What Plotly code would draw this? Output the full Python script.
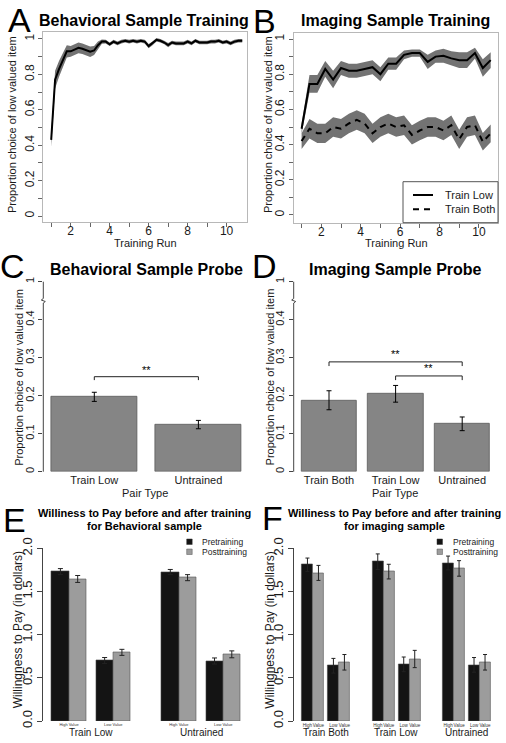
import plotly.graph_objects as go

W, H = 506, 743
FONT = "Liberation Sans, Arial, Helvetica, sans-serif"

# ----------------------------- data -----------------------------
# Panel A: behavioral sample training
train_run_A = [1.0, 1.2, 1.4, 1.6, 1.8, 2.0, 2.2, 2.4, 2.6, 2.8,
               3.0, 3.2, 3.4, 3.6, 3.8, 4.0, 4.2, 4.4, 4.6, 4.8,
               5.0, 5.2, 5.4, 5.6, 5.8, 6.0, 6.2, 6.4, 6.6, 6.8,
               7.0, 7.2, 7.4, 7.6, 7.8, 8.0, 8.2, 8.4, 8.6, 8.8,
               9.0, 9.2, 9.4, 9.6, 9.8, 10.0, 10.2, 10.4, 10.6, 10.8]
behav_mean = [0.43, 0.77, 0.83, 0.88, 0.93, 0.93, 0.94, 0.95, 0.945, 0.935,
              0.928, 0.935, 0.965, 0.985, 0.985, 0.97, 0.985, 0.975, 0.985, 0.99,
              0.985, 0.99, 0.985, 0.99, 0.985, 0.96, 0.975, 0.995, 0.99, 0.98,
              0.965, 0.98, 0.975, 0.975, 0.975, 0.985, 0.975, 0.99, 0.98, 0.98,
              0.98, 0.985, 0.985, 0.99, 0.98, 0.985, 0.975, 0.985, 0.99, 0.99]
behav_se = [0.04, 0.05, 0.045, 0.04, 0.035, 0.03, 0.03, 0.03, 0.03, 0.03,
            0.03, 0.025, 0.02, 0.012, 0.01, 0.01, 0.01, 0.01, 0.01, 0.01,
            0.01, 0.01, 0.01, 0.01, 0.01, 0.012, 0.01, 0.01, 0.01, 0.01,
            0.012, 0.01, 0.01, 0.01, 0.01, 0.01, 0.01, 0.01, 0.01, 0.01,
            0.01, 0.01, 0.01, 0.01, 0.01, 0.01, 0.01, 0.01, 0.01, 0.01]

# Panel B: imaging sample training
train_run_B = [1.0, 1.4, 1.8, 2.2, 2.6, 3.0, 3.4, 3.8, 4.2, 4.6,
               5.0, 5.4, 5.8, 6.2, 6.6, 7.0, 7.4, 7.8, 8.2, 8.6,
               9.0, 9.4, 9.8, 10.2, 10.6]
trainlow_mean = [0.49, 0.745, 0.745, 0.83, 0.77, 0.835, 0.82, 0.82, 0.83, 0.84,
                 0.80, 0.86, 0.86, 0.91, 0.92, 0.92, 0.87, 0.90, 0.905, 0.89,
                 0.88, 0.88, 0.92, 0.835, 0.88]
trainlow_se = [0.03, 0.05, 0.05, 0.045, 0.05, 0.04, 0.04, 0.04, 0.04, 0.04,
               0.04, 0.035, 0.035, 0.025, 0.02, 0.02, 0.04, 0.035, 0.04, 0.04,
               0.045, 0.045, 0.03, 0.05, 0.045]
trainboth_mean = [0.42, 0.49, 0.464, 0.464, 0.50, 0.49, 0.52, 0.54, 0.52, 0.464,
                  0.50, 0.52, 0.50, 0.51, 0.455, 0.48, 0.50, 0.50, 0.48, 0.51,
                  0.43, 0.50, 0.51, 0.416, 0.464]
trainboth_se = [0.045, 0.055, 0.055, 0.055, 0.055, 0.055, 0.055, 0.055, 0.055, 0.055,
                0.055, 0.055, 0.055, 0.055, 0.055, 0.055, 0.055, 0.055, 0.055, 0.055,
                0.055, 0.055, 0.055, 0.05, 0.05]

# Panel C: behavioral probe
probe_C_labels = ["Train Low", "Untrained"]
probe_C_mean = [0.197, 0.124]
probe_C_se = [0.012, 0.011]

# Panel D: imaging probe
probe_D_labels = ["Train Both", "Train Low", "Untrained"]
probe_D_mean = [0.188, 0.205, 0.126]
probe_D_se = [0.025, 0.022, 0.018]

# Panel E: WTP behavioral (order: group x [High Value, Low Value])
wtp_E_groups = ["Train Low", "Untrained"]
wtp_E_pre = [1.73, 0.70, 1.725, 0.695]
wtp_E_pre_se = [0.035, 0.035, 0.03, 0.035]
wtp_E_post = [1.645, 0.795, 1.66, 0.772]
wtp_E_post_se = [0.04, 0.035, 0.035, 0.04]

# Panel F: WTP imaging
wtp_F_groups = ["Train Both", "Train Low", "Untrained"]
wtp_F_pre = [1.81, 0.64, 1.845, 0.656, 1.83, 0.65]
wtp_F_pre_se = [0.077, 0.085, 0.09, 0.085, 0.08, 0.085]
wtp_F_post = [1.715, 0.68, 1.73, 0.718, 1.767, 0.68]
wtp_F_post_se = [0.087, 0.09, 0.085, 0.1, 0.09, 0.09]

# ----------------------------- helpers -----------------------------
def X(px):
    return px / W


def Y(py):
    return 1 - py / H


fig = go.Figure()

BAND = "#737373"
BAR = "#858585"
PRE = "#141414"
POST = "#9c9c9c"
TXT = "#1a1a1a"


def band(x, m, s, xa, ya, color=BAND):
    up = [a + b for a, b in zip(m, s)]
    lo = [a - b for a, b in zip(m, s)]
    fig.add_trace(go.Scatter(x=x, y=up, mode="lines", line=dict(width=0),
                             xaxis=xa, yaxis=ya, hoverinfo="skip"))
    fig.add_trace(go.Scatter(x=x, y=lo, mode="lines", line=dict(width=0),
                             fill="tonexty", fillcolor=color,
                             xaxis=xa, yaxis=ya, hoverinfo="skip"))


# Panel A
band(train_run_A, behav_mean, behav_se, "x", "y")
fig.add_trace(go.Scatter(x=train_run_A, y=behav_mean, mode="lines",
                         line=dict(color="black", width=2), xaxis="x", yaxis="y"))

# Panel B
band(train_run_B, trainlow_mean, trainlow_se, "x2", "y2")
band(train_run_B, trainboth_mean, trainboth_se, "x2", "y2")
fig.add_trace(go.Scatter(x=train_run_B, y=trainlow_mean, mode="lines",
                         line=dict(color="black", width=2), xaxis="x2", yaxis="y2"))
fig.add_trace(go.Scatter(x=train_run_B, y=trainboth_mean, mode="lines",
                         line=dict(color="black", width=2, dash="6px,5px"),
                         xaxis="x2", yaxis="y2"))

# Panel C
posC = [0.7 + 1.2 * i for i in range(len(probe_C_mean))]
fig.add_trace(go.Bar(x=posC, y=probe_C_mean, width=1.0,
                     marker=dict(color=BAR, line=dict(color="#5a5a5a", width=0.8)),
                     error_y=dict(type="data", array=probe_C_se, color="black",
                                  thickness=1, width=2.5),
                     xaxis="x3", yaxis="y3"))

# Panel D
posD = [0.7 + 1.2 * i for i in range(len(probe_D_mean))]
fig.add_trace(go.Bar(x=posD, y=probe_D_mean, width=1.0,
                     marker=dict(color=BAR, line=dict(color="#5a5a5a", width=0.8)),
                     error_y=dict(type="data", array=probe_D_se, color="black",
                                  thickness=1, width=2.5),
                     xaxis="x4", yaxis="y4"))

# Panel E
GE, VE = 6.36, 2.56
posE_pre = [0.5 + g * GE + v * VE for g in range(2) for v in range(2)]
posE_post = [p + 1 for p in posE_pre]
fig.add_trace(go.Bar(x=posE_pre, y=wtp_E_pre, width=1.0,
                     marker=dict(color=PRE, line=dict(color="#444", width=0.6)),
                     error_y=dict(type="data", array=wtp_E_pre_se, color="#222",
                                  thickness=1, width=2.5),
                     xaxis="x5", yaxis="y5"))
fig.add_trace(go.Bar(x=posE_post, y=wtp_E_post, width=1.0,
                     marker=dict(color=POST, line=dict(color="#555", width=0.6)),
                     error_y=dict(type="data", array=wtp_E_post_se, color="#222",
                                  thickness=1, width=2.5),
                     xaxis="x5", yaxis="y5"))

# Panel F
GF, VF = 6.39, 2.36
posF_pre = [0.5 + g * GF + v * VF for g in range(3) for v in range(2)]
posF_post = [p + 1 for p in posF_pre]
fig.add_trace(go.Bar(x=posF_pre, y=wtp_F_pre, width=1.0,
                     marker=dict(color=PRE, line=dict(color="#444", width=0.6)),
                     error_y=dict(type="data", array=wtp_F_pre_se, color="#222",
                                  thickness=1, width=2),
                     xaxis="x6", yaxis="y6"))
fig.add_trace(go.Bar(x=posF_post, y=wtp_F_post, width=1.0,
                     marker=dict(color=POST, line=dict(color="#555", width=0.6)),
                     error_y=dict(type="data", array=wtp_F_post_se, color="#222",
                                  thickness=1, width=2),
                     xaxis="x6", yaxis="y6"))

# ----------------------------- axes -----------------------------
tick_font = dict(family=FONT, size=12, color=TXT)


def line_xaxis(dom, rng, anchor):
    return dict(domain=[X(dom[0]), X(dom[1])], range=rng, anchor=anchor,
                tickvals=list(range(1, 11)),
                ticktext=["" if i % 2 else str(i) for i in range(1, 11)],
                ticks="outside", ticklen=4, tickcolor="#666", tickwidth=1,
                showline=True, mirror=True, linecolor="#b8b8b8", linewidth=1,
                showgrid=False, zeroline=False, tickfont=tick_font,
                ticklabelstandoff=-6, tickangle=0, automargin=False)


def line_yaxis(dom, rng, anchor):
    vals = [i / 10 for i in range(11)]
    text = ["0", "", "0.2", "", "0.4", "", "0.6", "", "0.8", "", "1"]
    return dict(domain=[Y(dom[1]), Y(dom[0])], range=rng, anchor=anchor,
                tickvals=vals, ticktext=text, tickangle=-90,
                ticks="outside", ticklen=4, tickcolor="#666", tickwidth=1,
                showline=True, mirror=True, linecolor="#b8b8b8", linewidth=1,
                showgrid=False, zeroline=False, tickfont=tick_font,
                automargin=False)


def probe_yaxis(dom, anchor):
    return dict(domain=[Y(dom[1]), Y(dom[0])], range=[0, 0.5], anchor=anchor,
                tickvals=[0, 0.1, 0.2, 0.3, 0.4, 0.5],
                ticktext=["0", "0.1", "0.2", "0.3", "0.4", "1"], tickangle=-90,
                ticks="outside", ticklen=4, tickcolor="#444", tickwidth=1,
                showline=False, showgrid=False, zeroline=False,
                tickfont=dict(family=FONT, size=11, color=TXT), automargin=False)


def probe_xaxis(dom, rng, anchor, vals, text):
    return dict(domain=[X(dom[0]), X(dom[1])], range=rng, anchor=anchor,
                tickvals=vals, ticktext=text, ticks="", showline=False,
                showgrid=False, zeroline=False, tickangle=0,
                tickfont=dict(family=FONT, size=11, color=TXT), automargin=False)


def wtp_yaxis(anchor):
    return dict(domain=[Y(721), Y(548.3)], range=[0, 2], anchor=anchor,
                tickvals=[0, 0.5, 1, 1.5, 2],
                ticktext=["0.0", "0.5", "1.0", "1.5", "2.0"], tickangle=-90,
                ticks="outside", ticklen=5, tickcolor="#444", tickwidth=1,
                showline=True, linecolor="#444", linewidth=1,
                showgrid=False, zeroline=False,
                tickfont=dict(family=FONT, size=13, color=TXT), automargin=False)


fig.update_layout(
    xaxis=line_xaxis((43.3, 246.7), [0.595, 11.03], "y"),
    yaxis=line_yaxis((31.7, 221.7), [-0.032, 1.041], "x"),
    xaxis2=line_xaxis((294, 498), [0.614, 10.97], "y2"),
    yaxis2=line_yaxis((32.7, 222.7), [-0.044, 1.036], "x2"),
    xaxis3=probe_xaxis((43.3, 249.4), [0.112, 2.488], "y3", posC, probe_C_labels),
    yaxis3=probe_yaxis((281.7, 471.7), "x3"),
    xaxis4=probe_xaxis((293.7, 497.5), [0.064, 3.736], "y4", posD, probe_D_labels),
    yaxis4=probe_yaxis((281.7, 471.7), "x4"),
    xaxis5=dict(domain=[X(43.3), X(247)], range=[-0.49, 11.3], anchor="y5",
                tickvals=[0.5 + g * GE + v * VE + 0.5 for g in range(2) for v in range(2)],
                ticktext=["High Value", "Low Value"] * 2, ticks="", tickangle=0,
                showline=False, showgrid=False, zeroline=False,
                tickfont=dict(family=FONT, size=4, color="#333"), automargin=False),
    yaxis5=wtp_yaxis("x5"),
    xaxis6=dict(domain=[X(293.7), X(494.5)], range=[-0.75, 17.5], anchor="y6",
                tickvals=sorted(posF_pre + posF_post),
                ticktext=["High", "Value", "Low", "Value"] * 3, ticks="", tickangle=0,
                showline=False, showgrid=False, zeroline=False,
                tickfont=dict(family=FONT, size=4.5, color="#333"), automargin=False),
    yaxis6=wtp_yaxis("x6"),
)

# ----------------------------- decorations -----------------------------
shapes = []
ann = []


def text(x, y, s, size, bold=False, angle=0, xref="paper", yref="paper",
         xanchor="center", color=TXT):
    ann.append(dict(x=x, y=y, xref=xref, yref=yref, text=f"<b>{s}</b>" if bold else s,
                    showarrow=False, textangle=angle, xanchor=xanchor, yanchor="middle",
                    font=dict(family=FONT, size=size, color=color)))


# panel letters
for letter, (px, py) in {"A": (19.5, 20.5), "B": (264.5, 21), "C": (12, 266),
                         "D": (264, 266), "E": (14, 520), "F": (272, 517.5)}.items():
    text(X(px), Y(py), letter, 34, color="black")

# titles
text(X(144), Y(20), "Behavioral Sample Training", 16, bold=True, color="black")
text(X(395.5), Y(20), "Imaging Sample Training", 16, bold=True, color="black")
text(X(146), Y(269.3), "Behavioral Sample Probe", 16, bold=True, color="black")
text(X(395.3), Y(269.3), "Imaging Sample Probe", 16, bold=True, color="black")
text(X(144.7), Y(513), "Williness to Pay before and after training", 11, bold=True, color="black")
text(X(144.7), Y(525.5), "for Behavioral sample", 11, bold=True, color="black")
text(X(394.7), Y(513), "Williness to Pay before and after training", 11, bold=True, color="black")
text(X(394.7), Y(525.5), "for imaging sample", 11, bold=True, color="black")

# axis titles
ylab = "Proportion choice of low valued item"
text(X(12), Y(125), ylab, 11, angle=-90)
text(X(268), Y(125), ylab, 11, angle=-90)
text(X(18.3), Y(377.5), ylab, 11, angle=-90)
text(X(269.7), Y(376.7), ylab, 11, angle=-90)
text(X(18.3), Y(630), "Willingness to Pay (in dollars)", 12, angle=-90)
text(X(269.7), Y(630), "Willingness to Pay (in dollars)", 12, angle=-90)
text(X(145.5), Y(243), "Training Run", 11)
text(X(396), Y(243), "Training Run", 11)
text(X(145.3), Y(493.3), "Pair Type", 11)
text(X(394.7), Y(493.3), "Pair Type", 11)

# group labels E / F
for g, name in enumerate(wtp_E_groups):
    text(0.5 + g * GE + (VE + 2) / 2 - 0.5, Y(732.3), name, 10, xref="x5")
for g, name in enumerate(wtp_F_groups):
    text(0.5 + g * GF + (VF + 2) / 2 - 0.5, Y(732.3), name, 10, xref="x6")

# legend B
shapes.append(dict(type="rect", xref="paper", yref="paper", x0=X(403), x1=X(498),
                   y0=Y(222.7), y1=Y(181.7), line=dict(color="#555", width=1),
                   fillcolor="white"))
shapes.append(dict(type="line", xref="paper", yref="paper", x0=X(413), x1=X(433),
                   y0=Y(195), y1=Y(195), line=dict(color="black", width=2)))
shapes.append(dict(type="line", xref="paper", yref="paper", x0=X(413), x1=X(433),
                   y0=Y(209.3), y1=Y(209.3), line=dict(color="black", width=2, dash="6px,5px")))
text(X(443), Y(195), "Train Low", 11, xanchor="left")
text(X(443), Y(209.3), "Train Both", 11, xanchor="left")

# legends E / F
for lx in (186.7, 437):
    shapes.append(dict(type="rect", xref="paper", yref="paper", x0=X(lx), x1=X(lx + 5.5),
                       y0=Y(544.5), y1=Y(539), line=dict(color="#333", width=0.5),
                       fillcolor=PRE))
    shapes.append(dict(type="rect", xref="paper", yref="paper", x0=X(lx), x1=X(lx + 5.5),
                       y0=Y(554.5), y1=Y(549), line=dict(color="#555", width=0.5),
                       fillcolor=POST))
    text(X(lx + 13.5), Y(541.7), "Pretraining", 8.5, xanchor="left")
    text(X(lx + 13.5), Y(551.7), "Posttraining", 8.5, xanchor="left")

# y-axis lines with break for C and D
for ax in (43.3, 293.7):
    path = (f"M {X(ax)},{Y(281.7)} L {X(ax)},{Y(298.5)} L {X(ax - 2)},{Y(300)} "
            f"L {X(ax + 2)},{Y(301.5)} L {X(ax)},{Y(303)} L {X(ax)},{Y(471.7)}")
    shapes.append(dict(type="path", xref="paper", yref="paper", path=path,
                       line=dict(color="#444", width=1)))


# significance brackets
def bracket(xa, ya, x0, x1, ytop, ybot, star_y):
    shapes.append(dict(type="path", xref=xa, yref=ya,
                       path=f"M {x0},{ybot} L {x0},{ytop} L {x1},{ytop} L {x1},{ybot}",
                       line=dict(color="#222", width=1)))
    ann.append(dict(x=(x0 + x1) / 2, y=star_y, xref=xa, yref=ya, text="**",
                    showarrow=False, font=dict(family=FONT, size=11, color="black")))


bracket("x3", "y3", posC[0], posC[1], 0.25, 0.241, 0.268)
bracket("x4", "y4", posD[0], posD[2], 0.289, 0.278, 0.31)
bracket("x4", "y4", posD[1], posD[2], 0.252, 0.241, 0.272)

fig.update_layout(
    width=W, height=H, margin=dict(l=0, r=0, t=0, b=0, autoexpand=False),
    paper_bgcolor="white", plot_bgcolor="white", showlegend=False,
    shapes=shapes, annotations=ann, bargap=0, hovermode=False,
    font=dict(family=FONT, color=TXT),
)

fig.write_html("out.html", config={"displayModeBar": False},
               post_script="document.body.style.margin='0px';")
